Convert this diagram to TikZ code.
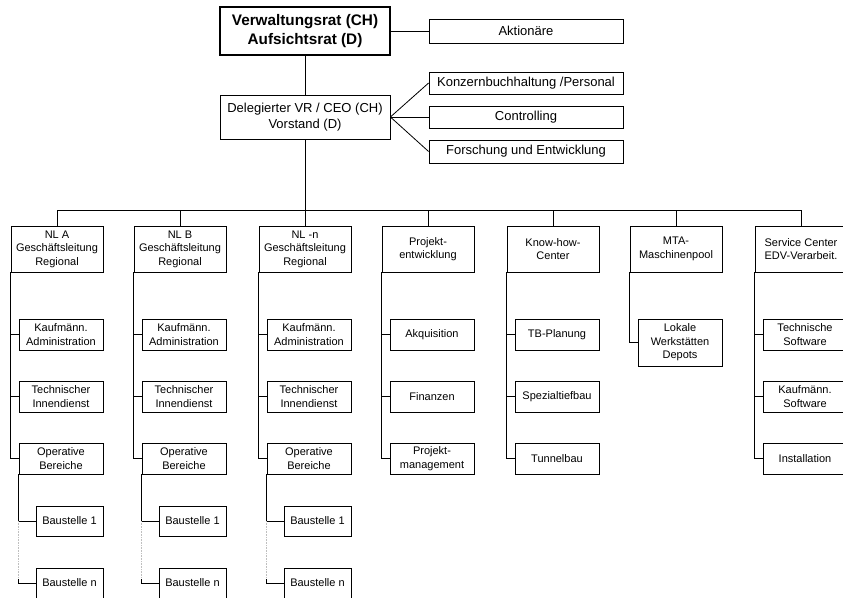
\documentclass[tikz,border=0pt]{standalone}
\usepackage{fontspec}
\setmainfont{Liberation Sans}
\usetikzlibrary{calc}
\begin{document}
\begin{tikzpicture}[x=1pt,y=-1pt,
  line width=0.8pt,
  box/.style={draw, line width=0.8pt, inner sep=0pt, align=center,
    font=\fontsize{11}{13.5}\selectfont},
  headbox/.style={box, minimum width=92pt, minimum height=46pt},
  subbox/.style={box, minimum width=84pt, minimum height=31pt},
  sitebox/.style={box, minimum width=67pt, minimum height=30pt},
  staffbox/.style={box, minimum width=194pt, font=\fontsize{13}{16}\selectfont},
  faint/.style={black!25, densely dotted, line width=0.6pt}]
\useasboundingbox (0,0) rectangle (843,597);

% --- board and executive level ---
\node[box, line width=2pt, minimum width=170pt, minimum height=48pt,
  font=\bfseries\fontsize{15.3}{18.5}\selectfont] (vr) at (305,31)
  {Verwaltungsrat (CH)\\Aufsichtsrat (D)};
\node[staffbox, minimum height=24pt] (akt) at (526,31) {Aktionäre};
\node[box, minimum width=170pt, minimum height=44pt,
  font=\fontsize{13}{16}\selectfont] (ceo) at (305,117)
  {Delegierter VR / CEO (CH)\\Vorstand (D)};
\node[staffbox, minimum height=22pt] (kb)  at (526,83)    {Konzernbuchhaltung /Personal};
\node[staffbox, minimum height=22pt] (ctl) at (526,117)   {Controlling};
\node[staffbox, minimum height=23pt] (fue) at (526,151.5) {Forschung und Entwicklung};

\draw (vr.east) -- (akt.west);
\draw (vr.south) -- (ceo.north);
\draw (ceo.east) -- (kb.west);
\draw (ceo.east) -- (ctl.west);
\draw (ceo.east) -- (fue.west);

% --- divisions ---
\coordinate (bus) at (305,210);

% regional branches (identical structure)
\foreach \c/\L/\t in {a/11/NL A, b/134/NL B, n/259/NL -n}{
  \node[headbox] (\c-top) at (\L+46,249) {\t\\Geschäftsleitung\\Regional};
  \node[subbox] (\c-ka) at (\L+50,334.5) {Kaufmänn.\\Administration};
  \node[subbox] (\c-ti) at (\L+50,396.5) {Technischer\\Innendienst};
  \node[subbox] (\c-op) at (\L+50,458.5) {Operative\\Bereiche};
  \node[sitebox] (\c-b1) at (\L+58.5,521) {Baustelle 1};
  \node[sitebox] (\c-bn) at (\L+58.5,583) {Baustelle n};
  \draw (\c-top.north) -- (\c-top.north |- bus);
  \draw (\c-top.south west) |- (\c-ka.west);
  \draw (\c-top.south west) |- (\c-ti.west);
  \draw (\c-top.south west) |- (\c-op.west);
  \draw (\c-op.south west) |- (\c-b1.west);
  \draw[faint] (\c-op.south west |- \c-b1.west) -- ($(\c-op.south west |- \c-bn.west)+(0,-4)$);
  \draw ($(\c-op.south west |- \c-bn.west)+(0,-4)$) |- (\c-bn.west);
}

% project development
\node[headbox] (pe) at (428,249) {Projekt-\\entwicklung};
\node[subbox] (pe1) at (432,334.5) {Akquisition};
\node[subbox] (pe2) at (432,396.5) {Finanzen};
\node[subbox] (pe3) at (432,458.5) {Projekt-\\management};
\draw (pe.north) -- (pe.north |- bus);
\draw (pe.south west) |- (pe1.west);
\draw (pe.south west) |- (pe2.west);
\draw (pe.south west) |- (pe3.west);

% know-how center
\node[headbox] (kh) at (553,249) {Know-how-\\Center};
\node[subbox] (kh1) at (557,334.5) {TB-Planung};
\node[subbox] (kh2) at (557,396.5) {Spezialtiefbau};
\node[subbox] (kh3) at (557,458.5) {Tunnelbau};
\draw (kh.north) -- (kh.north |- bus);
\draw (kh.south west) |- (kh1.west);
\draw (kh.south west) |- (kh2.west);
\draw (kh.south west) |- (kh3.west);

% machine pool
\node[headbox] (mta) at (676,249) {MTA-\\Maschinenpool};
\node[subbox, minimum height=47pt] (mta1) at (680,342.5) {Lokale\\Werkstätten\\Depots};
\draw (mta.north) -- (mta.north |- bus);
\draw (mta.south west) |- (mta1.west);

% service center
\node[headbox] (srv) at (801,249) {Service Center\\EDV-Verarbeit.};
\node[subbox] (srv1) at (805,334.5) {Technische\\Software};
\node[subbox] (srv2) at (805,396.5) {Kaufmänn.\\Software};
\node[subbox] (srv3) at (805,458.5) {Installation};
\draw (srv.north) -- (srv.north |- bus);
\draw (srv.south west) |- (srv1.west);
\draw (srv.south west) |- (srv2.west);
\draw (srv.south west) |- (srv3.west);

% main bus
\draw (ceo.south) -- (bus);
\draw (a-top.north |- bus) -- (srv.north |- bus);
\end{tikzpicture}
\end{document}
